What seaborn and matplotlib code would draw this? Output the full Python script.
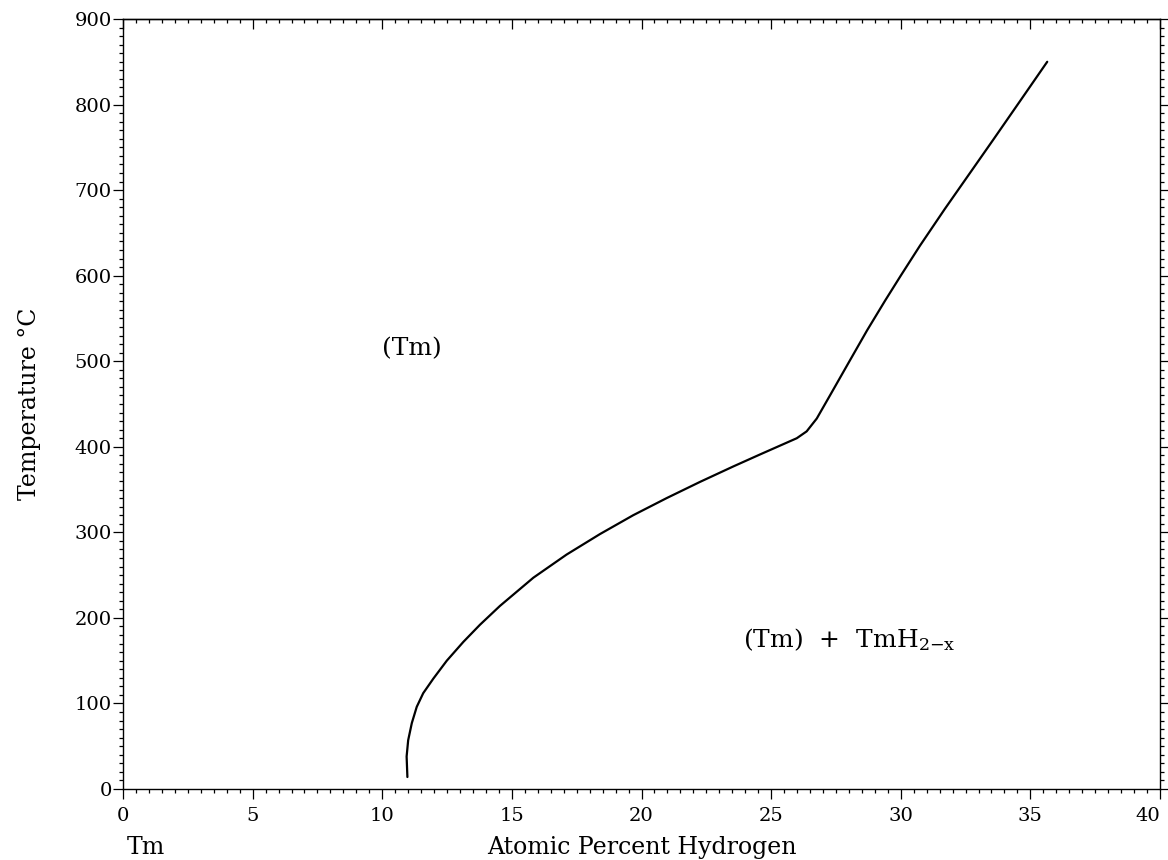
import matplotlib
matplotlib.use("Agg")
import matplotlib.pyplot as plt
import pandas as pd
import seaborn as sns
from matplotlib.ticker import MultipleLocator

# solvus curve of (Tm)
at_pct_h = [10.97, 10.94, 11.0, 11.14, 11.33, 11.58, 11.97, 12.49, 13.13, 13.77,
            14.54, 15.83, 17.11, 18.40, 19.68, 20.97, 22.26, 23.54, 24.57,
            25.99, 26.37, 26.76, 27.27, 28.04, 28.7, 29.4, 30.0, 30.74,
            31.7, 32.67, 33.57, 34.6, 35.65]
temp_c = [14, 38, 57, 77, 96, 112, 129, 150, 172, 192,
          214, 247, 274, 298, 320, 340, 359, 377, 391,
          410, 418, 433, 460, 501, 536, 571, 600, 635,
          678, 720, 759, 804, 850]

x_ticks = [0, 5, 10, 15, 20, 25, 30, 35, 40]
y_ticks = [0, 100, 200, 300, 400, 500, 600, 700, 800, 900]

df = pd.DataFrame({"x": at_pct_h, "T": temp_c})

sns.set_theme(style="white")
plt.rcParams["font.family"] = ["DejaVu Serif"]
plt.rcParams["mathtext.fontset"] = "dejavuserif"
for k in ["text.color", "axes.labelcolor", "xtick.color", "ytick.color"]:
    plt.rcParams[k] = "black"

fig = plt.figure(figsize=(11.68, 8.6), dpi=100)
ax = fig.add_axes([123 / 1168, 71 / 860, 1037 / 1168, 770 / 860])

sns.lineplot(data=df, x="x", y="T", sort=False, estimator=None,
             color="black", linewidth=1.6, ax=ax)
for ln in ax.lines:
    ln.set_solid_joinstyle("round")

ax.set_xlim(0, 40)
ax.set_ylim(0, 900)
ax.set_xticks(x_ticks)
ax.set_yticks(y_ticks)
ax.xaxis.set_minor_locator(MultipleLocator(0.5))
ax.yaxis.set_minor_locator(MultipleLocator(10))

for s in ax.spines.values():
    s.set_color("black")
    s.set_linewidth(1.0)

ax.tick_params(which="both", direction="out", width=0.9,
               bottom=True, left=True, right=True, top=False, labelsize=14)
ax.tick_params(which="major", length=7)
ax.tick_params(which="minor", length=3)
ax.tick_params(axis="y", pad=1)
ax.tick_params(axis="x", pad=6)
ax.get_xticklabels()[-1].set_horizontalalignment("right")

# top ticks point into the box
top = ax.secondary_xaxis("top")
top.set_xticks(x_ticks)
top.xaxis.set_minor_locator(MultipleLocator(0.5))
top.tick_params(which="both", direction="in", width=0.9, labeltop=False)
top.tick_params(which="major", length=7)
top.tick_params(which="minor", length=3)
top.spines["top"].set_linewidth(1.0)

ax.set_xlabel("Atomic Percent Hydrogen", fontsize=17, labelpad=8)
ax.set_ylabel("Temperature °C", fontsize=17, labelpad=24)

ax.text(11.15, 515, "(Tm)", fontsize=18, ha="center", va="center")
ax.text(23.9, 175, r"(Tm)  +  TmH$_{2\mathrm{-x}}$", fontsize=18,
        ha="left", va="center")
fig.text(127 / 1168, 1 - 847 / 860, "Tm", fontsize=17, ha="left", va="center")

fig.savefig("out.png", dpi=100)
